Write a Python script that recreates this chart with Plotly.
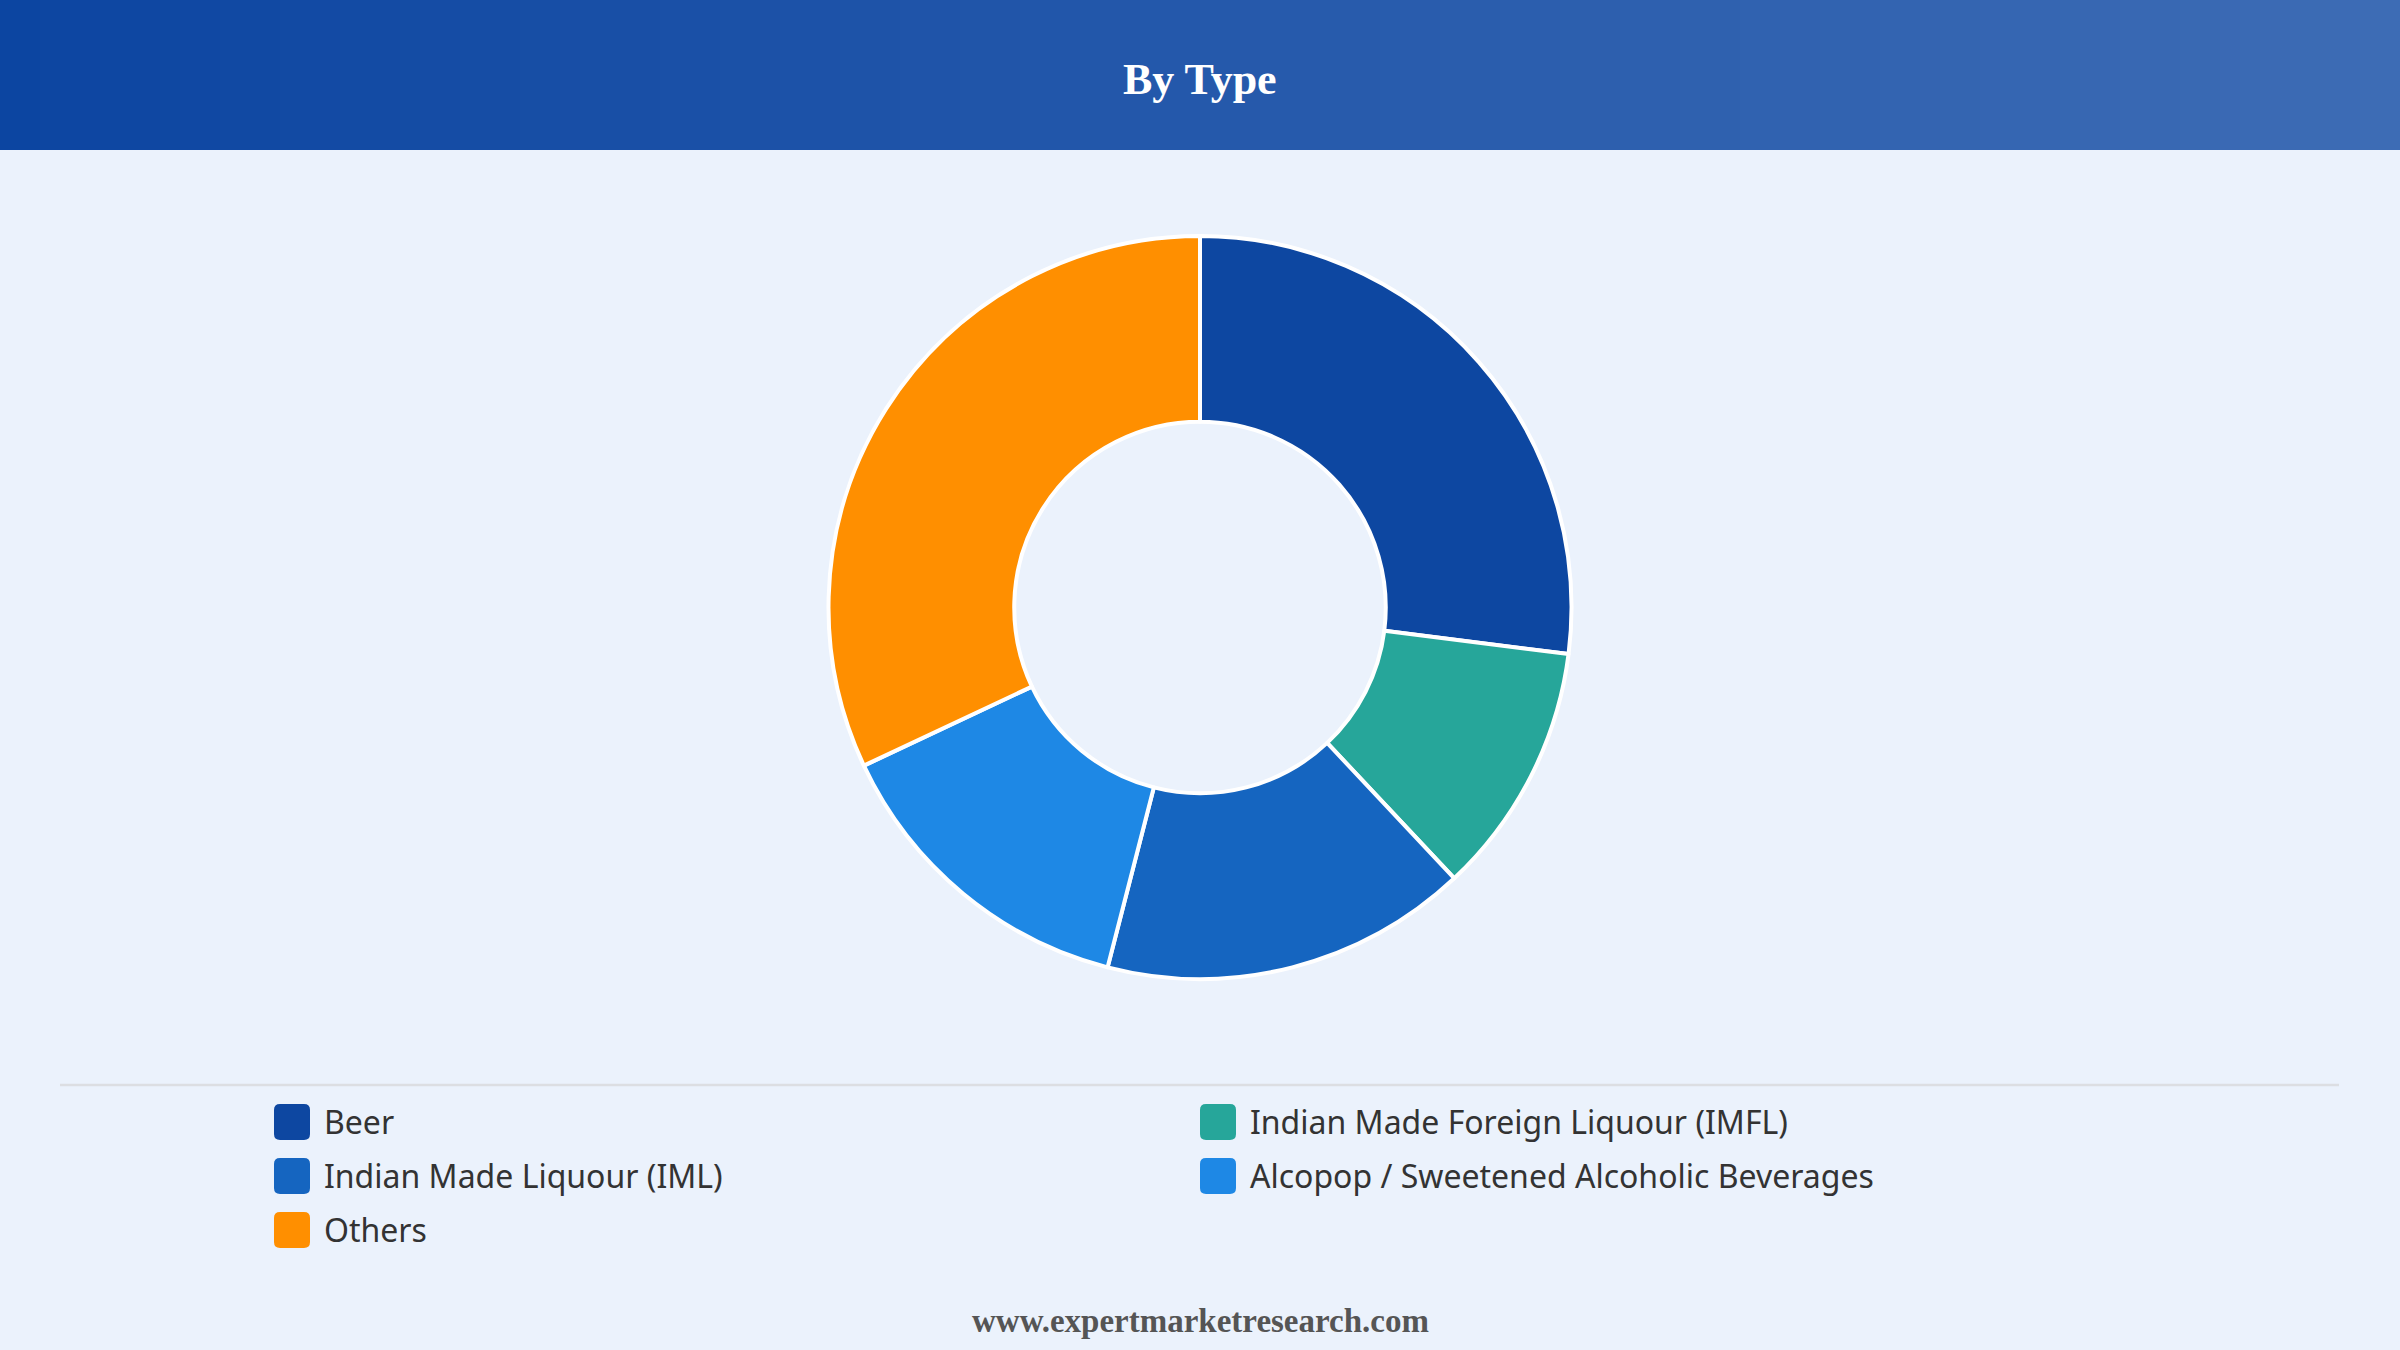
import plotly.graph_objects as go

# ---- data ----
categories = ["Beer", "Indian Made Foreign Liquour (IMFL)", "Indian Made Liquour (IML)",
              "Alcopop / Sweetened Alcoholic Beverages", "Others"]
shares = [27, 11, 16, 14, 32]
colors = ["#0D47A1", "#26A69A", "#1565C0", "#1E88E5", "#FF8F00"]
title_text = "By Type"
footer_text = "www.expertmarketresearch.com"

W, H = 2400, 1350
BG = "#EBF2FC"


def px_x(x):
    return x / W


def px_y(y):
    return 1 - y / H


fig = go.Figure()
fig.add_trace(go.Pie(
    labels=categories,
    values=shares,
    hole=0.5,
    sort=False,
    direction="clockwise",
    rotation=0,
    marker=dict(colors=colors, line=dict(color="#FFFFFF", width=4)),
    textinfo="none",
    hoverinfo="label+percent",
    showlegend=False,
    domain=dict(x=[0, 1], y=[px_y(979), px_y(236)]),
))

shapes = []
# header gradient
n_steps = 120
c0 = (12, 69, 161)
c1 = (61, 108, 181)
for i in range(n_steps):
    t = i / (n_steps - 1)
    r = round(c0[0] + (c1[0] - c0[0]) * t)
    g = round(c0[1] + (c1[1] - c0[1]) * t)
    b = round(c0[2] + (c1[2] - c0[2]) * t)
    shapes.append(dict(type="rect", xref="paper", yref="paper",
                       x0=i / n_steps, x1=(i + 1) / n_steps + 0.001,
                       y0=px_y(150), y1=1, fillcolor=f"rgb({r},{g},{b})",
                       line=dict(width=0), layer="below"))
# separator
shapes.append(dict(type="line", xref="paper", yref="paper",
                   x0=px_x(60), x1=px_x(2339), y0=px_y(1085), y1=px_y(1085),
                   line=dict(color="#DCDEE2", width=2.5)))

annotations = [
    dict(text=f"<b>{title_text}</b>", x=0.5, y=px_y(80), xref="paper", yref="paper",
         showarrow=False, xanchor="center", yanchor="middle",
         font=dict(family="Liberation Serif", size=44, color="#FFFFFF")),
    dict(text=f"<b>{footer_text}</b>", x=0.5, y=px_y(1321), xref="paper", yref="paper",
         showarrow=False, xanchor="center", yanchor="middle",
         font=dict(family="Liberation Serif", size=33, color="#555555")),
]


def rounded_rect(x0, y0, x1, y1, r):
    def P(x, y):
        return f"{px_x(x):.6f},{px_y(y):.6f}"
    path = (f"M{P(x0 + r, y0)} L{P(x1 - r, y0)} Q{P(x1, y0)} {P(x1, y0 + r)} "
            f"L{P(x1, y1 - r)} Q{P(x1, y1)} {P(x1 - r, y1)} L{P(x0 + r, y1)} "
            f"Q{P(x0, y1)} {P(x0, y1 - r)} L{P(x0, y0 + r)} Q{P(x0, y0)} {P(x0 + r, y0)} Z")
    return path


# custom legend, two columns
col_x = [274, 1200]
row_y0 = 1122
row_dy = 54
sym = 36
for i, (cat, col) in enumerate(zip(categories, colors)):
    cx = col_x[i % 2]
    cy = row_y0 + row_dy * (i // 2)
    shapes.append(dict(type="path", xref="paper", yref="paper",
                       path=rounded_rect(cx, cy - sym / 2, cx + sym, cy + sym / 2, 6),
                       fillcolor=col, line=dict(width=0)))
    annotations.append(dict(text=cat, x=px_x(cx + sym + 12), y=px_y(cy - 1),
                            xref="paper", yref="paper", showarrow=False,
                            xanchor="left", yanchor="middle",
                            font=dict(family="Noto Sans", size=32, color="#333333")))

fig.update_layout(
    width=W, height=H,
    margin=dict(l=0, r=0, t=0, b=0),
    paper_bgcolor=BG,
    plot_bgcolor=BG,
    shapes=shapes,
    annotations=annotations,
    showlegend=False,
)

fig.write_html("out.html")
